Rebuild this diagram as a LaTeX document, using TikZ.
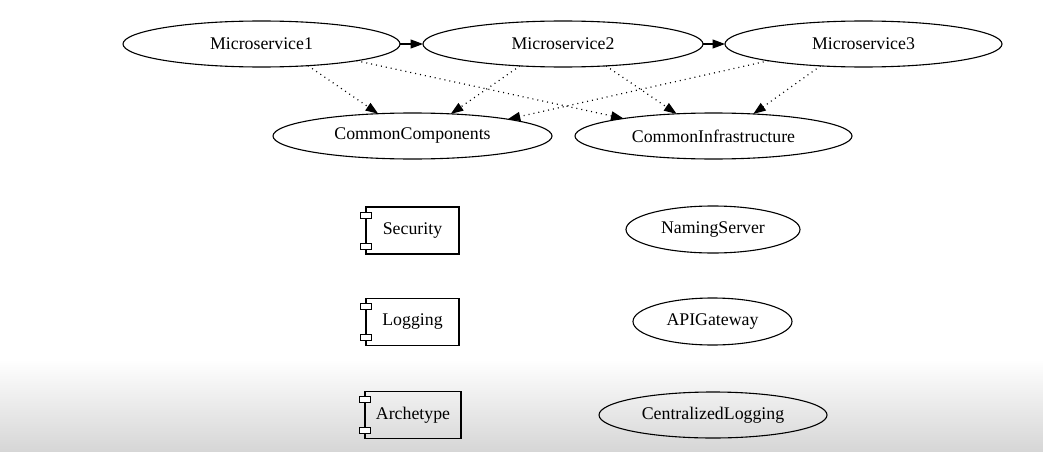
\documentclass[tikz,border=0pt]{standalone}
\usepackage{fontspec}
\setmainfont{Liberation Serif}
\usetikzlibrary{shapes.geometric,arrows.meta}
\tikzset{
  gv/.style={line width=1.1pt, font=\fontsize{17.8}{20}\selectfont, inner sep=0pt, outer sep=0pt},
  ell/.style={gv, draw, ellipse, minimum height=46pt},
  comp/.style={gv, draw, rectangle, minimum height=47pt},
  tab/.style={line width=1pt, fill=white},
  solidarrow/.style={line width=1.1pt, -{Triangle[length=12.5pt,width=9pt]}},
  dotarrow/.style={line width=1.2pt, dash pattern=on 1pt off 4pt, -{Triangle[length=12.5pt,width=9pt]}},
}
\begin{document}
\begin{tikzpicture}[x=1pt,y=1pt]
\useasboundingbox (0,0) rectangle (1043,451);
\fill[white] (0,0) rectangle (1043,451);
\shade[top color=white, bottom color=black!16] (0,0) rectangle (1043,92);

% top row
\node[ell, minimum width=277pt] (m1) at (261.5,407) {Microservice1};
\node[ell, minimum width=280pt] (m2) at (563,407) {Microservice2};
\node[ell, minimum width=277pt] (m3) at (863.5,407) {Microservice3};

% second row
\node[ell, minimum width=279pt] (cc) at (412.5,315) {CommonComponents};
\node[ell, minimum width=277pt] (ci) at (713.5,315) {CommonInfrastructure};

% components
\node[comp, minimum width=93pt] (sec) at (412.5,220.5) {Security};
\node[comp, minimum width=93pt] (log) at (412.5,129) {Logging};
\node[comp, minimum width=96pt] (arch) at (413,36) {Archetype};
\foreach \n in {sec,log,arch} {
  \draw[tab] ([xshift=-5.5pt,yshift=-5pt]\n.north west) rectangle ++(11pt,-6pt);
  \draw[tab] ([xshift=-5.5pt,yshift=5pt]\n.south west) rectangle ++(11pt,6pt);
}

% infrastructure ellipses
\node[ell, minimum width=174pt, minimum height=47pt] (ns) at (713,221.5) {NamingServer};
\node[ell, minimum width=159pt, minimum height=47pt] (api) at (712.5,129.5) {APIGateway};
\node[ell, minimum width=228pt] (clog) at (713,36) {CentralizedLogging};

% solid arrows
\draw[solidarrow] (m1.east) -- (m2.west);
\draw[solidarrow] (m2.east) -- (m3.west);

% dotted dependencies
\draw[dotarrow] (m1.-25.6) -- (cc.147.8);
\draw[dotarrow] (m1.-10) -- (ci.169.3);
\draw[dotarrow] (m2.207.1) -- (cc.30.1);
\draw[dotarrow] (m2.-27.6) -- (ci.149.9);
\draw[dotarrow] (m3.190.4) -- (cc.10.6);
\draw[dotarrow] (m3.207.1) -- (ci.29.4);
\end{tikzpicture}
\end{document}
